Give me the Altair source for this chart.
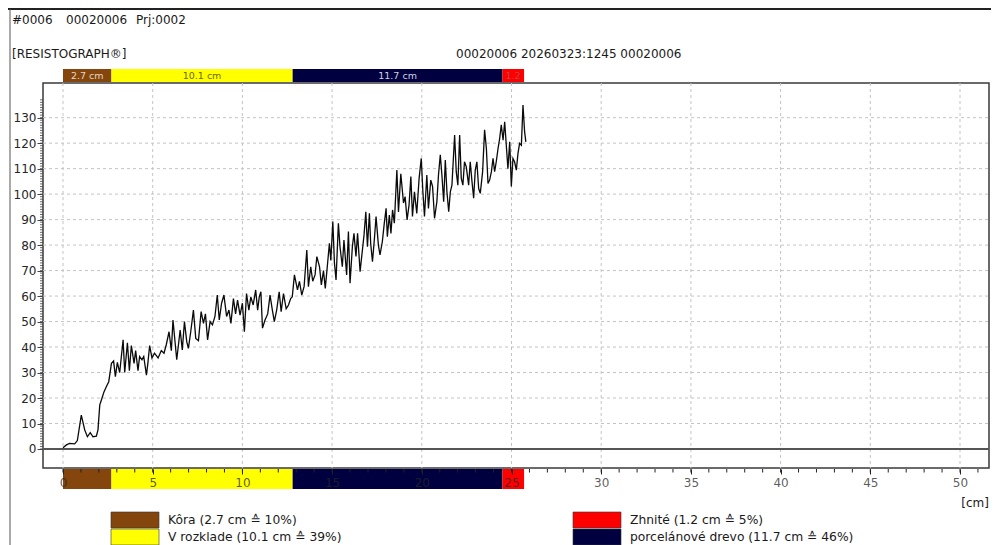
import altair as alt
import pandas as pd

# ---------------- data ----------------
depth_cm = [
    0, 0.19, 0.37, 0.65, 0.8, 1.02, 1.21, 1.36, 1.52, 1.67, 1.86, 1.95, 2.05, 2.14, 2.29, 2.42, 2.55,
    2.7, 2.82, 2.92, 3.03, 3.16, 3.35, 3.44, 3.59, 3.7, 3.81, 3.96, 4.05, 4.18, 4.27, 4.4, 4.5, 4.65,
    4.73, 4.83, 4.96, 5.1, 5.3, 5.48, 5.63, 5.76, 5.91, 6.04, 6.13,
    6.34, 6.53, 6.65, 6.77, 6.9, 6.99, 7.12, 7.27, 7.4, 7.55, 7.7, 7.83, 7.94, 8.06, 8.2, 8.33, 8.47,
    8.6, 8.71, 8.84, 8.97, 9.12, 9.25, 9.36, 9.5, 9.62, 9.73, 9.87, 10.0, 10.11, 10.23, 10.36, 10.47,
    10.6, 10.74, 10.85, 10.94, 11.03, 11.12, 11.26, 11.41, 11.54, 11.67, 11.78, 11.91, 12.05, 12.16,
    12.29, 12.44, 12.57, 12.69, 12.78, 12.9,
    13.07, 13.18, 13.31, 13.44, 13.59, 13.68, 13.81, 13.92, 14.05, 14.15, 14.3, 14.4, 14.52, 14.62,
    14.75, 14.85, 14.93, 15.04, 15.13, 15.22, 15.35, 15.44, 15.57, 15.66, 15.81, 15.91, 16.0, 16.13,
    16.22, 16.33, 16.42, 16.56, 16.65, 16.78, 16.88, 16.97, 17.08, 17.15, 17.25, 17.36, 17.45, 17.58,
    17.67, 17.8, 17.91, 18.01, 18.08, 18.19, 18.28, 18.37, 18.47, 18.61, 18.7, 18.83, 18.98,
    19.07, 19.18, 19.29, 19.39, 19.48, 19.59, 19.72, 19.85, 19.97, 20.06, 20.15, 20.28, 20.37, 20.5,
    20.6, 20.71, 20.84, 20.93, 21.03, 21.12, 21.22, 21.31, 21.4, 21.5, 21.59, 21.68, 21.83, 21.92,
    22.01, 22.11, 22.2, 22.29, 22.38, 22.48, 22.61, 22.7, 22.79, 22.89, 22.98, 23.07, 23.17, 23.26,
    23.39, 23.5, 23.6, 23.69, 23.78, 23.88, 23.97, 24.06, 24.15, 24.25, 24.34, 24.43, 24.53, 24.62,
    24.71, 24.8, 24.9, 24.99, 25.08, 25.17, 25.27, 25.36, 25.45, 25.55, 25.64, 25.73, 25.8,
]
amplitude = [
    0.5, 1.6, 2.2, 2.0, 3.3, 13.3, 7.5, 4.8, 6.4, 4.8, 5.0, 7.5, 17.3, 19.2, 22.5, 24.5, 26.4,
    33.6, 34.5, 28.4, 34, 30, 42.8, 30, 41.7, 30.7, 40.6, 33.6, 38.6, 30.7, 36.3, 35, 36.3, 29,
    33.6, 40.6, 35.7, 37.6, 35.7, 38.6, 37.6, 41, 46, 38.6, 50.6,
    35, 46.7, 38.9, 50, 42, 39.5, 46, 54.5, 43.4, 42.5, 53.9, 49.3, 53, 42.8, 50, 48.7, 52,
    60.4, 50.6, 57.2, 60.4, 52, 54.5, 49.3, 59, 53, 58.4, 52.5, 57.2, 46, 61, 54.5, 59.7,
    56.5, 62.4, 54.5, 59.7, 61.7, 47.4, 50.6, 53, 60.4, 54.5, 50, 54.5, 61.7, 53.9,
    61, 55, 56.5, 59, 59.7, 68.3,
    62.4, 65.8, 60.4, 63.8, 78.1, 63.7, 71.5, 65.8, 68.3, 75.5, 71.5, 64.4, 70, 63,
    73, 80.7, 74, 89.2, 73, 66.3, 88.6, 79.4, 71.5, 82, 68.3, 85.3, 65, 79.4,
    84.6, 75.5, 84.6, 69.6, 75.5, 84, 93.1, 79.4, 92.5, 80.7, 73.5, 82.6, 91.2, 80,
    76.2, 81.3, 88.6, 94.4, 83.3, 91.8, 84.6, 93.8, 88.6, 109.5, 93, 108, 96.5,
    99, 89.9, 95.8, 106.9, 91.2, 100.9, 92.4, 106.2, 114, 100.9, 91.2, 107.5, 94.4, 105.5,
    103, 90.5, 97, 107.5, 115.4, 107.5, 97, 113.4, 100.9, 93.1, 100.9, 103.5, 123.2, 108.8,
    103.5, 123.2, 106.2, 103.5, 112.7, 110.7, 103.5, 112.7, 105.5, 98.4, 109.4, 112.7, 102.2, 100.3,
    108.8, 125.2, 117.9, 104.2, 105.5, 108.8, 114, 108.8, 112.7, 117.9, 121.8, 127.2, 121.2, 128.4,
    119.2, 110, 120.5, 103, 114, 112.7, 109.4, 115.9, 119.9, 119.2, 135, 124.5, 120.5,
]

seg_names = ["Kôra", "V rozklade", "porcelánové drevo", "Zhnité"]
seg_len_cm = [2.7, 10.1, 11.7, 1.2]
seg_pct = [10, 39, 46, 5]
seg_bar_labels = ["2.7 cm", "10.1 cm", "11.7 cm", "1.2"]

x_major = [0, 5, 10, 15, 20, 25, 30, 35, 40, 45, 50]
y_major = [0, 10, 20, 30, 40, 50, 60, 70, 80, 90, 100, 110, 120, 130]
x_minor = list(range(0, 52))
y_minor = list(range(0, 138))

header_left = ["#0006", "00020006", "Prj:0002"]
header_title = "[RESISTOGRAPH®]"
header_right = "00020006 20260323:1245 00020006"
unit_label = "[cm]"

# ---------------- styles ----------------
seg_colors = ["#84460c", "#ffff00", "#000040", "#ff0000"]
seg_text_colors = ["#e6d6c6", "#6e6800", "#d0d0e0", "#b84848"]
FONT = "DejaVu Sans"
TXT = "#1a1a1a"

W, H = 946, 385
PX_PER_CM = 17.94
xscale = alt.Scale(domain=[-20 / PX_PER_CM, (W - 20) / PX_PER_CM], nice=False, zero=False)
yscale = alt.Scale(domain=[-7.46, 143.6], nice=False, zero=False)

xaxis = alt.Axis(values=x_major, tickSize=5, offset=1, labelFontSize=12, labelPadding=3,
                 labelColor="#262626", labelOpacity=0.75, tickColor="#222222", domain=False,
                 grid=False, title=None, zindex=1, labelFlush=False, labelBound=False)
yaxis = alt.Axis(values=y_major, tickSize=6, labelFontSize=12, labelPadding=1,
                 labelColor="#262626", tickColor="#444444", domain=False, grid=False, title=None)


def X(f):
    return alt.X(f, type="quantitative", scale=xscale, axis=xaxis)


def Y(f):
    return alt.Y(f, type="quantitative", scale=yscale, axis=yaxis)


curve_df = pd.DataFrame({"depth": depth_cm, "amp": amplitude})

starts, acc = [], 0.0
for L in seg_len_cm:
    starts.append(acc)
    acc += L
seg_df = pd.DataFrame({
    "name": seg_names,
    "start": starts,
    "end": [s + L for s, L in zip(starts, seg_len_cm)],
    "mid": [s + L / 2 for s, L in zip(starts, seg_len_cm)],
    "label": seg_bar_labels,
    "fill": seg_colors,
    "tcolor": seg_text_colors,
})

layers = []

# grid
layers.append(alt.Chart(pd.DataFrame({"x": x_major})).mark_rule(
    color="#c4c4c4", strokeDash=[3, 3], strokeWidth=1).encode(
    x=X("x"), y=alt.value(0), y2=alt.value(H)))
layers.append(alt.Chart(pd.DataFrame({"y": y_major[1:]})).mark_rule(
    color="#c4c4c4", strokeDash=[3, 3], strokeWidth=1).encode(
    y=Y("y"), x=alt.value(0), x2=alt.value(W)))
# zero line
layers.append(alt.Chart(pd.DataFrame({"y": [0]})).mark_rule(
    color="#555555", strokeWidth=2).encode(y=Y("y"), x=alt.value(0), x2=alt.value(W)))
# y minor ticks
layers.append(alt.Chart(pd.DataFrame({"y": y_minor})).mark_rule(
    color="#444444", strokeWidth=0.8).encode(y=Y("y"), x=alt.value(-3), x2=alt.value(0)))
# curve
layers.append(alt.Chart(curve_df).mark_line(color="#0a0a0a", strokeWidth=1.3).encode(
    x=X("depth"), y=Y("amp")))
# bottom and top zone bars
for y0, y1 in [(386, 406), (-14, -1)]:
    layers.append(alt.Chart(seg_df).mark_rect().encode(
        x=X("start"), x2=alt.X2("end"), y=alt.value(y0), y2=alt.value(y1),
        color=alt.Color("fill:N", scale=None)))
layers.append(alt.Chart(seg_df).mark_text(fontSize=9.5, baseline="middle", align="center").encode(
    x=X("mid"), y=alt.value(-7), text="label:N", color=alt.Color("tcolor:N", scale=None)))
# x minor ticks
layers.append(alt.Chart(pd.DataFrame({"x": x_minor})).mark_rule(
    color="#222222", strokeWidth=1).encode(x=X("x"), y=alt.value(386), y2=alt.value(389.5)))


def txt(s, x, y, size=12, align="left", color=TXT):
    return alt.Chart(pd.DataFrame({"t": [s]})).mark_text(
        align=align, baseline="middle", fontSize=size, color=color).encode(
        x=alt.value(x), y=alt.value(y), text="t:N")


# header texts
for s, x in zip(header_left, [-31, 23, 93]):
    layers.append(txt(s, x, -63))
layers.append(txt(header_title, -31, -29))
layers.append(txt(header_right, 413, -29))
layers.append(txt(unit_label, 946, 420, align="right"))

# legend
legend_slots = [(68, 429), (68, 446), (530, 429), (530, 446)]
legend_order = [0, 1, 3, 2]
for slot, i in zip(legend_slots, legend_order):
    sx, sy = slot
    layers.append(alt.Chart(pd.DataFrame({"k": [0]})).mark_rect(
        color=seg_colors[i], stroke="#333333", strokeWidth=0.6).encode(
        x=alt.value(sx), x2=alt.value(sx + 48), y=alt.value(sy), y2=alt.value(sy + 16)))
    label = f"{seg_names[i]} ({seg_len_cm[i]} cm \u2259 {seg_pct[i]}%)"
    layers.append(txt(label, sx + 57, sy + 8, size=12.3))

# outer page frame lines
layers.append(alt.Chart(pd.DataFrame({"k": [0]})).mark_rule(color="#222222", strokeWidth=2).encode(
    x=alt.value(-35), x2=alt.value(W + 2), y=alt.value(-74)))
layers.append(alt.Chart(pd.DataFrame({"k": [0]})).mark_rule(color="#555555", strokeWidth=1).encode(
    x=alt.value(-33), y=alt.value(-74), y2=alt.value(462)))

chart = alt.layer(*layers).properties(
    width=W, height=H,
    padding={"left": 35, "top": 75, "right": 2, "bottom": 77},
    autosize=alt.AutoSizeParams(type="none"),
).configure(font=FONT).configure_view(stroke="#3a3a3a", strokeWidth=1.5).configure_axis(
    labelFont=FONT)

chart.save("out.html", embed_options={"renderer": "svg", "actions": False})
